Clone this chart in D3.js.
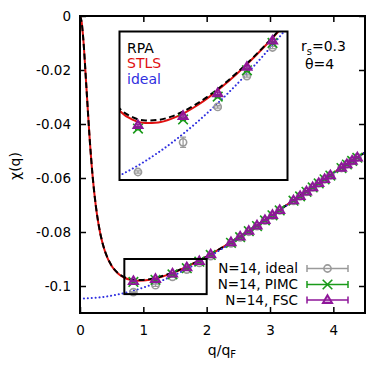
<!DOCTYPE html>
<html>
<head>
<meta charset="utf-8">
<script src="https://cdn.jsdelivr.net/npm/d3@7"></script>
<style>
  body { margin: 0; background: #fff; }
  text { font-family: "DejaVu Sans", sans-serif; }
</style>
</head>
<body>
<div id="chart"></div>
<script>
// curve grid (q/qF) and values
const qCurve = [0, 0.025, 0.05, 0.1, 0.15, 0.2, 0.25, 0.3, 0.35, 0.4, 0.5, 0.6, 0.7, 0.8, 0.9, 1.0,
  1.1, 1.2, 1.3, 1.4, 1.5, 1.6, 1.7, 1.8, 1.9, 2.0, 2.25, 2.5, 2.75, 3.0, 3.25, 3.5, 3.75, 4.0, 4.25, 4.5];
const chiRPA = [0, -0.00211, -0.00796, -0.02593, -0.04453, -0.05944, -0.07030, -0.07803, -0.08352, -0.08747,
  -0.09247, -0.09522, -0.09674, -0.09750, -0.09779, -0.09774, -0.09745, -0.09696, -0.09632, -0.09555,
  -0.09467, -0.09370, -0.09265, -0.09152, -0.09032, -0.08906, -0.08569, -0.08206, -0.07823, -0.07427,
  -0.07024, -0.06618, -0.06214, -0.05816, -0.05428, -0.05053];
const chiSTLS = [0, -0.00211, -0.00796, -0.02595, -0.04457, -0.05950, -0.07038, -0.07813, -0.08364, -0.08761,
  -0.09263, -0.09540, -0.09694, -0.09772, -0.09802, -0.09796, -0.09765, -0.09714, -0.09648, -0.09568,
  -0.09478, -0.09379, -0.09272, -0.09158, -0.09037, -0.08910, -0.08572, -0.08208, -0.07824, -0.07428,
  -0.07024, -0.06618, -0.06214, -0.05816, -0.05428, -0.05053];
const chiIdeal = [-0.10460, -0.10460, -0.10459, -0.10456, -0.10451, -0.10444, -0.10434, -0.10423, -0.10410, -0.10395,
  -0.10358, -0.10314, -0.10261, -0.10201, -0.10134, -0.10059, -0.09978, -0.09889, -0.09794, -0.09692,
  -0.09584, -0.09471, -0.09352, -0.09227, -0.09098, -0.08964, -0.08612, -0.08237, -0.07847, -0.07445,
  -0.07037, -0.06628, -0.06222, -0.05822, -0.05433, -0.05057];

// N=14 simulation points
const qData = [0.843, 1.192, 1.460, 1.686, 1.884, 2.064, 2.384, 2.528, 2.665, 2.795, 2.920, 3.039,
  3.153, 3.371, 3.475, 3.576, 3.674, 3.769, 3.862, 3.953, 4.129, 4.214, 4.297, 4.379];
const chiN14Ideal = [-0.1023, -0.0997, -0.0966, -0.0939, -0.0914, -0.0889, -0.0842, -0.0820, -0.0799, -0.0778,
  -0.0758, -0.0739, -0.0720, -0.0685, -0.0668, -0.0651, -0.0635, -0.0620, -0.0605, -0.0590, -0.0563,
  -0.0549, -0.0537, -0.0524];
const errN14Ideal = [0.0001, 0.00045, 0.0001, 0.0001, 0.0001, 0.0001, 0.0001, 0.0001, 0.0001, 0.0001, 0.0001,
  0.0001, 0.0001, 0.0001, 0.0001, 0.0001, 0.0001, 0.0001, 0.0001, 0.0001, 0.0001, 0.0001, 0.0001, 0.0001];
const chiPIMC = [-0.0985, -0.0977, -0.0957, -0.0934, -0.0910, -0.0885, -0.0840, -0.0819, -0.0797, -0.0778,
  -0.0757, -0.0738, -0.0720, -0.0684, -0.0668, -0.0651, -0.0635, -0.0620, -0.0605, -0.0591, -0.0563,
  -0.0550, -0.0537, -0.0525];
const errPIMC = [0.0001, 0.0001, 0.0001, 0.0001, 0.0001, 0.0001, 0.0001, 0.0001, 0.0001, 0.0001, 0.0001,
  0.0001, 0.0001, 0.0001, 0.0001, 0.0001, 0.0001, 0.0001, 0.0001, 0.0001, 0.0001, 0.0001, 0.0001, 0.0001];
const chiFSC = [-0.0982, -0.0974, -0.0954, -0.0931, -0.0908, -0.0883, -0.0838, -0.0817, -0.0796, -0.0776,
  -0.0756, -0.0737, -0.0719, -0.0683, -0.0667, -0.0650, -0.0634, -0.0619, -0.0604, -0.0590, -0.0562,
  -0.0549, -0.0536, -0.0524];
const errFSC = [0.0001, 0.0001, 0.0001, 0.0001, 0.0001, 0.0001, 0.0001, 0.0001, 0.0001, 0.0001, 0.0001,
  0.0001, 0.0001, 0.0001, 0.0001, 0.0001, 0.0001, 0.0001, 0.0001, 0.0001, 0.0001, 0.0001, 0.0001, 0.0001];

const xTicks = [0, 1, 2, 3, 4];
const xTickLabels = ["0", "1", "2", "3", "4"];
const yTicks = [0, -0.02, -0.04, -0.06, -0.08, -0.1];
const yTickLabels = ["0", "-0.02", "-0.04", "-0.06", "-0.08", "-0.1"];
const legendNames = ["N=14, ideal", "N=14, PIMC", "N=14, FSC"];
const insetNames = ["RPA", "STLS", "ideal"];

// layout
const width = 390, height = 379;
const plotL = 80, plotR = 365, plotT = 16, plotB = 313;
const zoomQ = [0.7, 2.0], zoomChi = [-0.103, -0.09];
const inset = {x0: 119.5, x1: 287.5, y0: 31.5, y1: 180};

const colRPA = "#000", colSTLS = "#e01010", colIdeal = "#2f2fe0";
const colGray = "#9a9a9a", colGreen = "#1a9a1a", colPurple = "#8e1699";

const svg = d3.select("#chart").append("svg")
  .attr("width", width)
  .attr("height", height)
  .style("background", "#fff");

const x = d3.scaleLinear().domain([0, 4.5]).range([plotL, plotR]);
const y = d3.scaleLinear().domain([-0.11, 0]).range([plotB, plotT]);

const xi = d3.scaleLinear().domain(zoomQ).range([inset.x0, inset.x1]);
const yi = d3.scaleLinear().domain(zoomChi).range([inset.y1, inset.y0]);

const defs = svg.append("defs");
defs.append("clipPath").attr("id", "clipMain")
  .append("rect").attr("x", plotL).attr("y", plotT).attr("width", plotR - plotL).attr("height", plotB - plotT);
defs.append("clipPath").attr("id", "clipInset")
  .append("rect").attr("x", inset.x0).attr("y", inset.y0)
  .attr("width", inset.x1 - inset.x0).attr("height", inset.y1 - inset.y0);

// axes with inward ticks
function styleAxis(g) {
  g.select(".domain").remove();
  g.selectAll(".tick line").attr("stroke", "#000").attr("stroke-width", 1.5);
  g.selectAll(".tick text").attr("font-size", 13.5).attr("fill", "#000")
    .style("font-family", "'DejaVu Sans', sans-serif");
}
svg.append("g").attr("transform", `translate(0,${plotB})`)
  .call(d3.axisBottom(x).tickValues(xTicks).tickFormat((d, i) => xTickLabels[i]).tickSize(-6).tickPadding(12))
  .call(styleAxis);
svg.append("g").attr("transform", `translate(0,${plotT})`)
  .call(d3.axisTop(x).tickValues(xTicks).tickFormat("").tickSize(-6))
  .call(styleAxis);
svg.append("g").attr("transform", `translate(${plotL},0)`)
  .call(d3.axisLeft(y).tickValues(yTicks).tickFormat((d, i) => yTickLabels[i]).tickSize(-6).tickPadding(9))
  .call(styleAxis);
svg.append("g").attr("transform", `translate(${plotR},0)`)
  .call(d3.axisRight(y).tickValues(yTicks).tickFormat("").tickSize(-6))
  .call(styleAxis);

// curves
function drawCurves(g, sx, sy) {
  const line = vals => d3.line()
    .x((d, i) => sx(qCurve[i]))
    .y(d => sy(d))
    .curve(d3.curveMonotoneX)(vals);
  g.append("path").attr("d", line(chiSTLS))
    .attr("fill", "none").attr("stroke", colSTLS).attr("stroke-width", 2);
  g.append("path").attr("d", line(chiRPA))
    .attr("fill", "none").attr("stroke", colRPA).attr("stroke-width", 2)
    .attr("stroke-dasharray", "6,3.5");
  g.append("path").attr("d", line(chiIdeal))
    .attr("fill", "none").attr("stroke", colIdeal).attr("stroke-width", 2)
    .attr("stroke-linecap", "round").attr("stroke-dasharray", "0.1,3.8");
}

function marker(g, kind, cx, cy) {
  if (kind === "circle") {
    g.append("circle").attr("cx", cx).attr("cy", cy).attr("r", 3.6)
      .attr("fill", "none").attr("stroke", colGray).attr("stroke-width", 1.6);
  } else if (kind === "cross") {
    g.append("path")
      .attr("d", `M${cx - 4.8},${cy - 4.8}L${cx + 4.8},${cy + 4.8}M${cx - 4.8},${cy + 4.8}L${cx + 4.8},${cy - 4.8}`)
      .attr("stroke", colGreen).attr("stroke-width", 1.6).attr("fill", "none");
  } else {
    g.append("path")
      .attr("d", `M${cx},${cy - 4.8}L${cx + 4.6},${cy + 3}L${cx - 4.6},${cy + 3}Z`)
      .attr("stroke", colPurple).attr("stroke-width", 1.9)
      .attr("fill", colPurple).attr("fill-opacity", 0.35);
  }
}

function drawPoints(g, sx, sy, vals, errs, kind, color) {
  vals.forEach((v, i) => {
    const cx = sx(qData[i]);
    const y1 = sy(v - errs[i]), y2 = sy(v + errs[i]);
    g.append("path")
      .attr("d", `M${cx},${y1}L${cx},${y2}M${cx - 3},${y1}L${cx + 3},${y1}M${cx - 3},${y2}L${cx + 3},${y2}`)
      .attr("stroke", color).attr("stroke-width", 1.3).attr("fill", "none");
    marker(g, kind, cx, sy(v));
  });
}

const mainPlot = svg.append("g").attr("clip-path", "url(#clipMain)");
drawCurves(mainPlot, x, y);
drawPoints(mainPlot, x, y, chiN14Ideal, errN14Ideal, "circle", colGray);
drawPoints(mainPlot, x, y, chiPIMC, errPIMC, "cross", colGreen);
drawPoints(mainPlot, x, y, chiFSC, errFSC, "tri", colPurple);

// zoom window in main plot
svg.append("rect")
  .attr("x", x(zoomQ[0])).attr("y", y(zoomChi[1]))
  .attr("width", x(zoomQ[1]) - x(zoomQ[0])).attr("height", y(zoomChi[0]) - y(zoomChi[1]))
  .attr("fill", "none").attr("stroke", "#000").attr("stroke-width", 2);

// main frame
svg.append("rect")
  .attr("x", plotL).attr("y", plotT).attr("width", plotR - plotL).attr("height", plotB - plotT)
  .attr("fill", "none").attr("stroke", "#000").attr("stroke-width", 2);

// inset
svg.append("rect")
  .attr("x", inset.x0).attr("y", inset.y0)
  .attr("width", inset.x1 - inset.x0).attr("height", inset.y1 - inset.y0)
  .attr("fill", "#fff");
const insetPlot = svg.append("g").attr("clip-path", "url(#clipInset)");
drawCurves(insetPlot, xi, yi);
drawPoints(insetPlot, xi, yi, chiN14Ideal, errN14Ideal, "circle", colGray);
drawPoints(insetPlot, xi, yi, chiPIMC, errPIMC, "cross", colGreen);
drawPoints(insetPlot, xi, yi, chiFSC, errFSC, "tri", colPurple);
svg.append("rect")
  .attr("x", inset.x0).attr("y", inset.y0)
  .attr("width", inset.x1 - inset.x0).attr("height", inset.y1 - inset.y0)
  .attr("fill", "none").attr("stroke", "#000").attr("stroke-width", 2);

// inset legend
[colRPA, colSTLS, colIdeal].forEach((c, i) => {
  svg.append("text")
    .attr("x", 127).attr("y", 48 + i * 15.5).attr("dy", "0.35em")
    .attr("font-size", 14).attr("fill", c)
    .text(insetNames[i]);
});

// parameters
const par = svg.append("text").attr("x", 301).attr("y", 51).attr("font-size", 14);
par.append("tspan").text("r");
par.append("tspan").attr("font-size", 10).attr("dy", 4).text("s");
par.append("tspan").attr("dy", -4).text("=0.3");
svg.append("text").attr("x", 305).attr("y", 69).attr("font-size", 14).text("θ=4");

// main legend
const legendRows = [268.5, 284.5, 300];
const legendKinds = ["circle", "cross", "tri"];
const legendCols = [colGray, colGreen, colPurple];
legendNames.forEach((name, i) => {
  const ly = legendRows[i];
  svg.append("text")
    .attr("x", 298).attr("y", ly).attr("dy", "0.35em")
    .attr("text-anchor", "end").attr("font-size", 13.5)
    .text(name);
  svg.append("path")
    .attr("d", `M307,${ly}L348,${ly}M307,${ly - 3.5}L307,${ly + 3.5}M348,${ly - 3.5}L348,${ly + 3.5}`)
    .attr("stroke", legendCols[i]).attr("stroke-width", 1.5).attr("fill", "none");
  marker(svg, legendKinds[i], 327.5, ly);
});

// axis titles
svg.append("text")
  .attr("transform", "translate(20,166) rotate(-90)")
  .attr("text-anchor", "middle").attr("font-size", 14)
  .text("χ(q)");
const xt = svg.append("text")
  .attr("x", 222).attr("y", 355)
  .attr("text-anchor", "middle").attr("font-size", 14);
xt.append("tspan").text("q/q");
xt.append("tspan").attr("font-size", 10).attr("dy", 3).text("F");
</script>
</body>
</html>
